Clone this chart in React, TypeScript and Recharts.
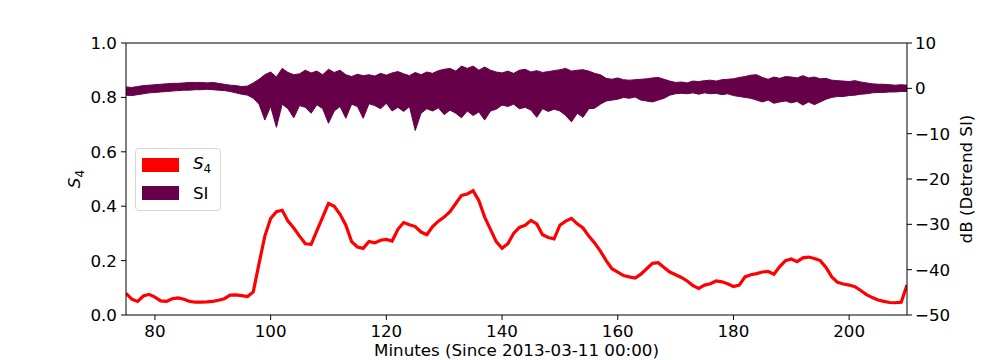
import React from 'react';
import { ComposedChart, Line, Area, XAxis, YAxis, ReferenceLine, Label } from 'recharts';

// one sample per minute, starting at minute 75
const MINUTE_START = 75;

const S4 = [
  0.08, 0.058, 0.05, 0.07, 0.076, 0.066, 0.052, 0.05, 0.06, 0.063,
  0.058, 0.05, 0.047, 0.047, 0.048, 0.05, 0.054, 0.06, 0.073, 0.074,
  0.071, 0.068, 0.085, 0.19, 0.29, 0.355, 0.38, 0.385, 0.345, 0.32,
  0.29, 0.262, 0.26, 0.31, 0.36, 0.41, 0.4, 0.37, 0.33, 0.27,
  0.25, 0.245, 0.27, 0.265, 0.275, 0.278, 0.272, 0.315, 0.34, 0.332,
  0.325, 0.305, 0.295, 0.325, 0.345, 0.36, 0.38, 0.41, 0.44, 0.445,
  0.457, 0.42, 0.36, 0.315, 0.27, 0.245, 0.262, 0.3, 0.322, 0.33,
  0.348, 0.335, 0.295, 0.285, 0.28, 0.33, 0.345, 0.355, 0.335, 0.32,
  0.29, 0.265, 0.235, 0.2, 0.17, 0.158, 0.145, 0.14, 0.136, 0.15,
  0.17, 0.19, 0.192, 0.175, 0.158, 0.148, 0.138, 0.125, 0.108, 0.098,
  0.11, 0.115, 0.125, 0.122, 0.115, 0.105, 0.11, 0.14, 0.148, 0.152,
  0.158, 0.16, 0.15, 0.178, 0.2, 0.206, 0.196, 0.21, 0.213, 0.208,
  0.2, 0.175, 0.14, 0.12, 0.114, 0.11, 0.104, 0.09, 0.075, 0.064,
  0.055, 0.05, 0.046, 0.045, 0.047, 0.11,
];

// SI envelope (dB), upper and lower edge of the dense band
const SI_HIGH = [
  0.3, 0.2, 0.4, 0.6, 0.7, 0.8, 0.9, 1.0, 1.1, 1.1,
  1.2, 1.3, 1.3, 1.3, 1.2, 1.3, 1.1, 0.9, 0.7, 0.6,
  0.4, 0.5, 1.2, 2.0, 3.0, 3.6, 2.5, 4.4, 3.5, 3.0,
  3.2, 4.0, 3.4, 3.8, 3.0, 4.2, 3.5, 4.0, 3.0, 2.6,
  3.1, 2.8, 3.0, 2.7, 3.3, 2.9, 3.4, 3.7, 3.2, 2.8,
  3.5, 3.0, 3.6, 3.3, 3.9, 4.2, 4.4, 3.8, 4.9, 4.4,
  4.9, 4.0, 4.7, 4.0, 3.6, 3.4, 3.8, 3.3, 4.0, 4.2,
  3.6, 3.9, 3.5, 3.7, 3.9, 4.1, 4.4, 3.8, 4.0, 4.1,
  3.8, 3.3, 3.0, 2.2, 2.0, 2.3, 1.9, 1.8, 1.9, 2.0,
  2.1, 2.3, 2.4, 2.0, 1.6, 1.3, 1.4, 1.2, 1.6, 1.5,
  1.7, 1.8, 1.6, 1.9, 2.0, 2.1, 2.4, 2.6, 2.9, 3.0,
  2.4, 2.0, 2.5, 2.2, 2.6, 2.5, 2.3, 2.8, 2.3, 2.5,
  2.1, 2.2, 1.8, 1.7, 1.6, 1.5, 1.7, 1.4, 1.2, 1.0,
  0.9, 0.9, 0.8, 0.7, 0.8, 0.7,
];

const SI_LOW = [
  -1.5, -1.6, -1.4, -1.2, -1.0, -0.9, -0.8, -0.7, -0.6, -0.5,
  -0.4, -0.4, -0.3, -0.3, -0.2, -0.3, -0.4, -0.5, -0.7, -1.0,
  -1.3, -1.5, -2.2, -3.5, -7.0, -4.0, -8.6, -3.5, -4.5, -6.5,
  -3.8, -4.2, -5.5, -3.6, -4.5, -7.7, -5.0, -4.0, -6.6, -3.5,
  -4.0, -6.6, -3.4, -3.8, -4.5, -3.3, -5.0, -4.2, -5.1, -4.0,
  -9.3, -5.5, -4.5, -5.0, -4.3, -5.8, -4.8, -5.5, -6.5, -5.0,
  -6.0, -5.2, -7.0, -5.0, -4.6, -3.7, -4.0, -3.5, -4.5, -4.2,
  -4.8, -6.4, -4.5, -5.1, -4.6, -5.0, -6.0, -7.4, -5.5, -6.4,
  -4.5, -4.4, -3.5, -2.8, -2.6, -2.4, -2.0, -2.2, -1.9, -2.6,
  -2.8, -3.0, -2.6, -2.2, -1.5, -1.2, -1.1, -1.2, -1.0, -1.3,
  -1.0, -1.2, -1.1, -1.4, -1.2, -1.6, -1.8, -2.0, -2.2, -2.6,
  -3.0, -2.6, -3.3, -3.0, -2.8, -3.2, -2.9, -3.7, -3.0, -3.6,
  -3.0, -2.4, -2.0, -1.8, -1.8, -1.6, -1.5, -1.3, -1.2, -1.0,
  -0.9, -0.9, -0.8, -0.8, -0.7, -0.7,
];

const X_TICKS = [80, 100, 120, 140, 160, 180, 200];
const LEFT_TICKS = [0, 0.2, 0.4, 0.6, 0.8, 1.0];
const RIGHT_TICKS = [-50, -40, -30, -20, -10, 0, 10];

const RED = '#ff0000';
const PURPLE = '#660048';
const FONT = '"DejaVu Sans", sans-serif';

const data = S4.map((s4, i) => ({
  t: MINUTE_START + i,
  s4,
  si: [SI_LOW[i], SI_HIGH[i]],
}));

const tickStyle = { fill: '#000', fontSize: 16.7, fontFamily: FONT };
const minus = (v: number) => (v < 0 ? `\u2212${Math.abs(v)}` : `${v}`);

const LegendBox = () => (
  <div
    style={{
      position: 'absolute',
      left: 135,
      top: 148,
      width: 86,
      height: 63,
      boxSizing: 'border-box',
      border: '1px solid #d6d6d6',
      borderRadius: 4,
      background: 'rgba(255,255,255,0.8)',
      fontFamily: FONT,
      fontSize: 16.7,
      color: '#000',
    }}
  >
    <div style={{ position: 'absolute', left: 6, top: 9, width: 37, height: 14, background: RED }} />
    <div style={{ position: 'absolute', left: 57, top: 4, lineHeight: '20px' }}>
      <i>S</i>
      <sub style={{ fontSize: 12 }}>4</sub>
    </div>
    <div style={{ position: 'absolute', left: 6, top: 37, width: 37, height: 14, background: PURPLE }} />
    <div style={{ position: 'absolute', left: 57, top: 34, lineHeight: '20px' }}>SI</div>
  </div>
);

export default function App() {
  return (
    <div style={{ position: 'absolute', left: 0, top: 0, width: 1008, height: 360, background: '#fff' }}>
      <ComposedChart width={1008} height={360} data={data} margin={{ top: 43, right: 0, bottom: 0, left: 0 }}>
        <XAxis
          dataKey="t"
          type="number"
          domain={[75, 210]}
          ticks={X_TICKS}
          height={45}
          tick={tickStyle}
          tickSize={5}
          tickMargin={5}
          stroke="#000"
          allowDataOverflow
        >
          <Label
            value="Minutes (Since 2013-03-11 00:00)"
            position="insideBottom"
            offset={4}
            style={{ fill: '#000', fontSize: 16.7, fontFamily: FONT }}
          />
        </XAxis>
        <YAxis
          yAxisId="left"
          domain={[0, 1]}
          ticks={LEFT_TICKS}
          width={126}
          tick={tickStyle}
          tickSize={5}
          tickMargin={4}
          stroke="#000"
          tickFormatter={(v: number) => v.toFixed(1)}
          allowDataOverflow
        >
          <Label
            content={() => (
              <text x={80} y={179} transform="rotate(-90 80 179)" textAnchor="middle" fontFamily={FONT} fontSize={16.7} fill="#000">
                <tspan fontStyle="italic">S</tspan>
                <tspan fontSize={12} dy={4}>4</tspan>
              </text>
            )}
          />
        </YAxis>
        <YAxis
          yAxisId="right"
          orientation="right"
          domain={[-50, 10]}
          ticks={RIGHT_TICKS}
          width={101}
          tick={tickStyle}
          tickSize={5}
          tickMargin={3}
          stroke="#000"
          tickFormatter={minus}
          allowDataOverflow
        >
          <Label
            value="dB (Detrend SI)"
            angle={-90}
            position="insideRight"
            offset={42}
            style={{ fill: '#000', fontSize: 16.7, fontFamily: FONT, textAnchor: 'middle' }}
          />
        </YAxis>
        <ReferenceLine yAxisId="left" y={1} stroke="#000" strokeWidth={1} />
        <Area
          yAxisId="right"
          dataKey="si"
          type="linear"
          stroke={PURPLE}
          strokeWidth={1}
          fill={PURPLE}
          fillOpacity={1}
          isAnimationActive={false}
          dot={false}
          activeDot={false}
        />
        <Line
          yAxisId="left"
          dataKey="s4"
          type="linear"
          stroke={RED}
          strokeWidth={3.2}
          dot={false}
          activeDot={false}
          isAnimationActive={false}
        />
      </ComposedChart>
      <LegendBox />
    </div>
  );
}
